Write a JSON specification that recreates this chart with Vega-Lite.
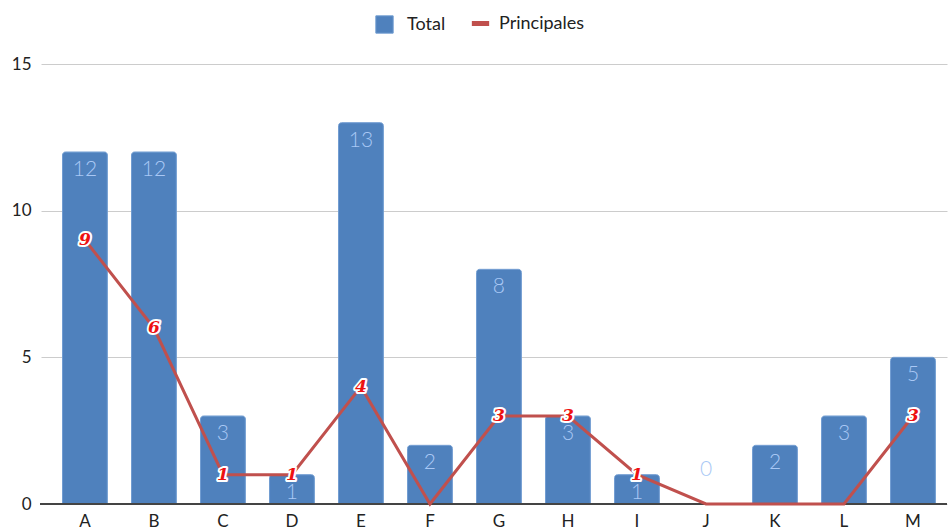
{
  "$schema": "https://vega.github.io/schema/vega-lite/v6.json",
  "width": 906,
  "height": 440,
  "autosize": {"type": "none"},
  "padding": {"left": 41, "top": 64, "right": 2, "bottom": 25},
  "background": "white",
  "config": {
    "view": {"stroke": null},
    "font": "Lato",
    "axis": {"labelFont": "Lato", "labelFontSize": 17, "labelColor": "#222222"}
  },
  "data": {"values": [
    {"cat": "A", "total": 12, "principales": 9},
    {"cat": "B", "total": 12, "principales": 6},
    {"cat": "C", "total": 3, "principales": 1},
    {"cat": "D", "total": 1, "principales": 1},
    {"cat": "E", "total": 13, "principales": 4},
    {"cat": "F", "total": 2, "principales": 0},
    {"cat": "G", "total": 8, "principales": 3},
    {"cat": "H", "total": 3, "principales": 3},
    {"cat": "I", "total": 1, "principales": 1},
    {"cat": "J", "total": 0, "principales": 0},
    {"cat": "K", "total": 2, "principales": 0},
    {"cat": "L", "total": 3, "principales": 0},
    {"cat": "M", "total": 5, "principales": 3}
  ]},
  "encoding": {
    "x": {
      "field": "cat", "type": "nominal", "title": null,
      "scale": {"paddingInner": 0.35, "paddingOuter": 0.24, "align": 0.65},
      "axis": {"labelAngle": 0, "ticks": false, "domain": false, "labelPadding": 9}
    }
  },
  "layer": [
    {
      "mark": {"type": "bar", "cornerRadiusTopLeft": 3, "cornerRadiusTopRight": 3, "stroke": "#6f9bd0", "strokeWidth": 1},
      "encoding": {
        "y": {
          "field": "total", "type": "quantitative", "title": null,
          "scale": {"domain": [0, 15], "nice": false},
          "axis": {"values": [0, 5, 10, 15], "ticks": false, "domain": false, "gridColor": "#cccccc", "gridWidth": 1, "labelPadding": 10}
        },
        "fill": {
          "datum": "Total", "type": "nominal",
          "scale": {"domain": ["Total"], "range": ["#4f81bd"]},
          "legend": {
            "title": null, "orient": "none", "direction": "horizontal",
            "legendX": 334, "legendY": -49,
            "labelFontSize": 18, "labelFont": "Lato", "labelColor": "#222222",
            "symbolType": "square", "symbolSize": 300, "labelOffset": 13,
            "symbolStrokeColor": "#6f9bd0", "symbolStrokeWidth": 1, "symbolOpacity": 1
          }
        }
      }
    },
    {
      "mark": {"type": "rule", "color": "#444444", "strokeWidth": 2},
      "encoding": {"y": {"datum": 0, "type": "quantitative"}, "x": {"value": -1}, "x2": {"value": 906}}
    },
    {
      "transform": [{"filter": "datum.total > 0"}],
      "mark": {"type": "text", "baseline": "middle", "dy": 18, "fontSize": 21, "font": "Lato", "fontWeight": 300, "color": "#a9c8f5"},
      "encoding": {"y": {"field": "total", "type": "quantitative"}, "text": {"field": "total"}}
    },
    {
      "transform": [{"filter": "datum.total == 0"}],
      "mark": {"type": "text", "baseline": "middle", "dy": -34, "fontSize": 21, "font": "Lato", "fontWeight": 300, "color": "#a9c8f5"},
      "encoding": {"y": {"field": "total", "type": "quantitative"}, "text": {"field": "total"}}
    },
    {
      "mark": {"type": "line", "strokeWidth": 3},
      "encoding": {
        "y": {"field": "principales", "type": "quantitative"},
        "stroke": {
          "datum": "Principales", "type": "nominal",
          "scale": {"domain": ["Principales"], "range": ["#c0504d"]},
          "legend": {
            "title": null, "orient": "none", "direction": "horizontal",
            "legendX": 428, "legendY": -52,
            "labelFontSize": 18, "labelFont": "Lato", "labelColor": "#222222",
            "symbolType": "stroke", "symbolSize": 300, "symbolStrokeWidth": 5, "labelOffset": 7
          }
        }
      }
    },
    {
      "transform": [{"filter": "datum.principales > 0"}],
      "mark": {"type": "text", "baseline": "middle", "fontSize": 17, "font": "DejaVu Serif", "fontStyle": "italic", "fontWeight": "bold", "stroke": "white", "strokeWidth": 4, "strokeJoin": "round", "color": "white"},
      "encoding": {"y": {"field": "principales", "type": "quantitative"}, "text": {"field": "principales"}}
    },
    {
      "transform": [{"filter": "datum.principales > 0"}],
      "mark": {"type": "text", "baseline": "middle", "fontSize": 17, "font": "DejaVu Serif", "fontStyle": "italic", "fontWeight": "bold", "color": "#ee1111"},
      "encoding": {"y": {"field": "principales", "type": "quantitative"}, "text": {"field": "principales"}}
    }
  ]
}
